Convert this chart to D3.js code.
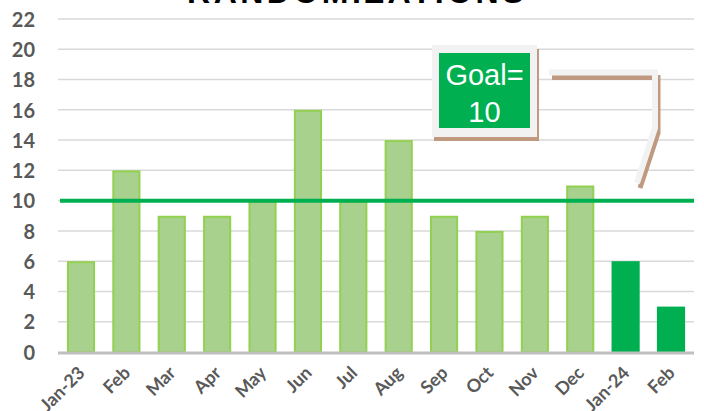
<!DOCTYPE html>
<html><head><meta charset="utf-8">
<script src="https://cdn.jsdelivr.net/npm/d3@7"></script>
<style>body{margin:0;background:#fff}svg{display:block}</style>
</head><body>
<svg id="c" width="704" height="411"></svg>
<script>
const categories = ["Jan-23","Feb","Mar","Apr","May","Jun","Jul","Aug","Sep","Oct","Nov","Dec","Jan-24","Feb"];
const values = [6,12,9,9,10,16,10,14,9,8,9,11,6,3];
const highlight = [false,false,false,false,false,false,false,false,false,false,false,false,true,true];
const yTicks = [0,2,4,6,8,10,12,14,16,18,20,22];
const goal = 10;
const title = "RANDOMIZATIONS";

const svg = d3.select("#c");
const keys = categories.map((c,i)=>i);
const x = d3.scaleBand().domain(keys).range([58.3,693.7]).paddingInner(0.38).paddingOuter(0.19);
const y = d3.scaleLinear().domain([0,22]).range([352,19]);

// title (clipped at top)
svg.append("text").attr("x",357).attr("y",3).attr("text-anchor","middle")
  .attr("font-family","Liberation Sans, Arial, sans-serif").attr("font-weight","bold")
  .attr("font-size",32).attr("letter-spacing",3.5).attr("fill","#000").text(title);

// gridlines
svg.append("g").selectAll("line").data(yTicks.filter(d=>d>0)).join("line")
  .attr("x1",58).attr("x2",694).attr("y1",d=>y(d)).attr("y2",d=>y(d))
  .attr("stroke","#d9d9d9").attr("stroke-width",1.5);

// y axis labels
const yAxis = d3.axisLeft(y).tickValues(yTicks).tickSize(0).tickPadding(0);
const ya = svg.append("g").attr("transform","translate(35,0)").call(yAxis);
ya.select(".domain").remove();
ya.selectAll("text").attr("font-family","Lato, sans-serif").attr("font-weight","bold")
  .attr("font-size",20).attr("fill","#595959").attr("dy","0.36em");

// bars
svg.append("g").selectAll("rect").data(values).join("rect")
  .attr("x",(d,i)=>x(i)+(highlight[i]?0:1)).attr("width",(d,i)=>x.bandwidth()-(highlight[i]?0:2))
  .attr("y",(d,i)=>y(d)+(highlight[i]?0:1)).attr("height",(d,i)=>y(0)-y(d)-(highlight[i]?0:1))
  .attr("fill",(d,i)=>highlight[i]?"#00b050":"#a9d18e")
  .attr("stroke",(d,i)=>highlight[i]?"none":"#92d050").attr("stroke-width",2);

// goal line
svg.append("line").attr("x1",60).attr("x2",694).attr("y1",y(goal)).attr("y2",y(goal))
  .attr("stroke","#00b050").attr("stroke-width",4);

// x axis
const xAxis = d3.axisBottom(x).tickSize(0).tickPadding(0).tickFormat(i=>categories[i]);
const xa = svg.append("g").attr("transform","translate(0,352)").call(xAxis);
xa.select(".domain").remove();
svg.append("line").attr("x1",58).attr("x2",694).attr("y1",353).attr("y2",353)
  .attr("stroke","#bfbfbf").attr("stroke-width",3);
xa.selectAll("text").attr("font-family","Lato, sans-serif").attr("font-weight","bold")
  .attr("font-size",18).attr("fill","#595959").attr("text-anchor","end").attr("dy",0).attr("y",0)
  .attr("transform","translate(5,22) rotate(-45)");

// goal callout box
const bx = 432, by = 45, bw = 105, bh = 92;
svg.append("rect").attr("x",bx+2).attr("y",by+4).attr("width",bw).attr("height",bh).attr("fill","#bf9a80");
svg.append("rect").attr("x",bx).attr("y",by).attr("width",bw).attr("height",bh).attr("fill","#f2f2f2");
svg.append("rect").attr("x",439).attr("y",53).attr("width",91).attr("height",75).attr("fill","#00b050");
svg.append("text").attr("x",484.5).attr("y",85).attr("text-anchor","middle").attr("fill","#fff")
  .attr("font-family","Liberation Sans, Arial, sans-serif").attr("font-size",29).text("Goal=");
svg.append("text").attr("x",484.5).attr("y",122).attr("text-anchor","middle").attr("fill","#fff")
  .attr("font-family","Liberation Sans, Arial, sans-serif").attr("font-size",29).text("10");

// arrow connector
const pts = [[549,72.5],[655,72.5],[655,128],[637,183]];
const line = d3.line();
svg.append("path").attr("d",line(pts.map(p=>[p[0]+3,p[1]+5]))).attr("fill","none")
  .attr("stroke","#bf9a80").attr("stroke-width",5).attr("stroke-linejoin","miter");
svg.append("path").attr("d",line(pts)).attr("fill","none")
  .attr("stroke","#f2f2f2").attr("stroke-width",6).attr("stroke-linejoin","miter");
</script>
</body></html>
